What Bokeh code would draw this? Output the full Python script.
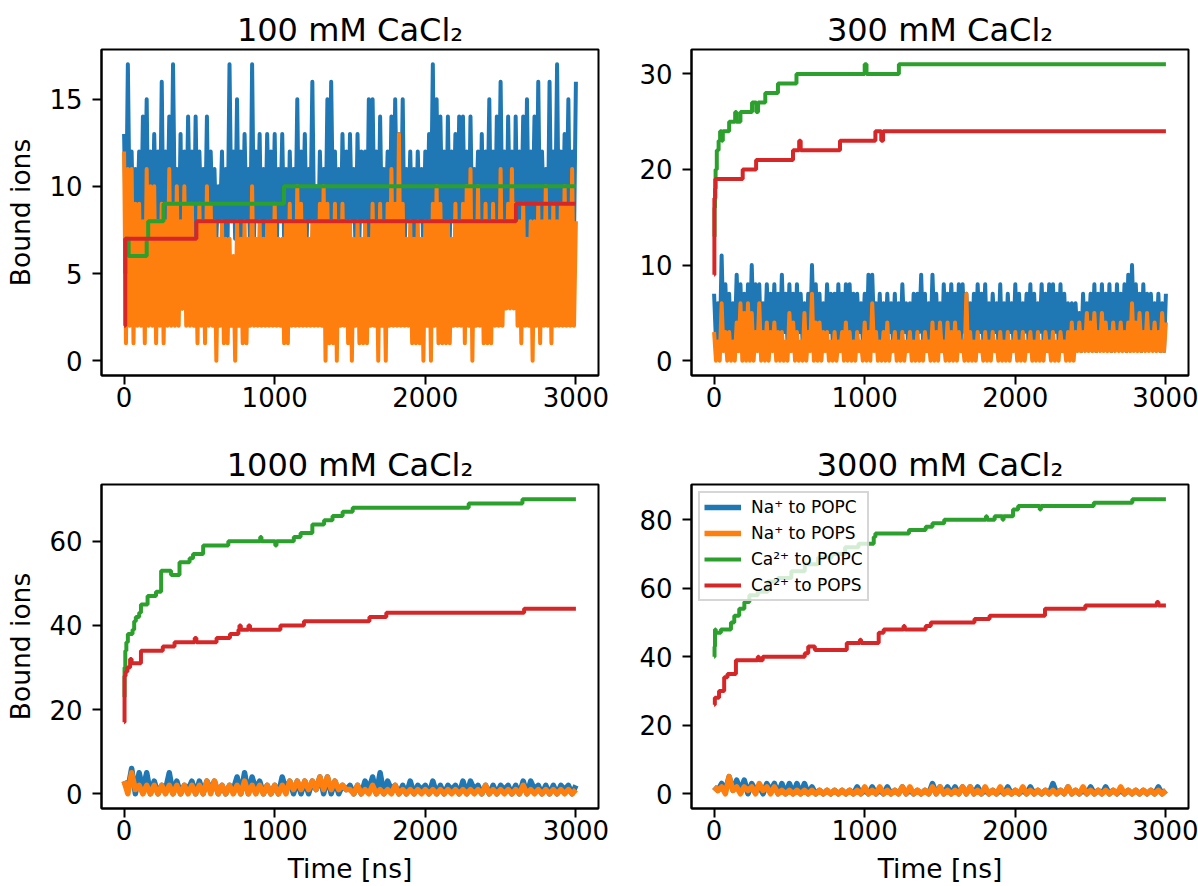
import numpy as np
from bokeh.plotting import figure
from bokeh.models import Range1d, FixedTicker, Legend, LegendItem
from bokeh.layouts import gridplot
from bokeh.embed import file_html
from bokeh.resources import INLINE

# sampling interval of the Na+ traces [ns]
DT_FINE = 12.5   # 100 mM and 300 mM (t = 0, 12.5, ... 3000)
DT_COARSE = 25.0  # 1000 mM and 3000 mM (t = 0, 25, ... 3000)

# ---------------- 100 mM CaCl2 ----------------
na_popc_100 = [
    13, 7, 17, 8, 12, 6, 11, 8, 12, 7,
    14, 8, 15, 6, 12, 7, 13, 8, 12, 7,
    16, 6, 12, 8, 14, 7, 17, 8, 11, 6,
    13, 3, 12, 7, 14, 8, 12, 6, 14, 7,
    12, 8, 11, 7, 14, 6, 12, 8, 11, 7,
    10, 8, 12, 6, 11, 7, 17, 8, 12, 7,
    15, 6, 12, 7, 13, 8, 11, 6, 17, 7,
    12, 8, 13, 6, 11, 7, 13, 8, 12, 7,
    13, 6, 11, 8, 13, 7, 11, 6, 12, 8,
    11, 7, 15, 6, 12, 8, 13, 7, 11, 8,
    16, 7, 10, 6, 12, 8, 11, 7, 15, 6,
    16, 8, 12, 7, 11, 6, 13, 8, 12, 7,
    13, 8, 11, 6, 13, 7, 12, 8, 12, 6,
    15, 7, 15, 8, 12, 6, 14, 7, 11, 8,
    12, 7, 14, 6, 15, 8, 13, 7, 15, 6,
    11, 8, 12, 7, 11, 7, 12, 8, 11, 6,
    12, 7, 13, 8, 17, 6, 15, 7, 14, 8,
    12, 6, 14, 7, 12, 8, 13, 6, 14, 7,
    14, 8, 12, 6, 14, 7, 11, 8, 12, 6,
    13, 7, 12, 8, 15, 6, 12, 7, 14, 8,
    16, 7, 12, 6, 14, 8, 12, 4, 14, 7,
    12, 8, 14, 6, 15, 7, 12, 8, 14, 6,
    16, 7, 12, 8, 11, 6, 16, 7, 12, 8,
    17, 6, 12, 7, 13, 8, 15, 6, 12, 7,
    16]
na_pops_100 = [
    12, 1, 11, 2, 11, 1, 9, 2, 9, 2,
    8, 1, 11, 2, 10, 2, 10, 1, 8, 2,
    9, 1, 8, 2, 11, 2, 9, 2, 10, 2,
    8, 3, 10, 2, 9, 2, 9, 2, 7, 1,
    9, 2, 8, 1, 10, 2, 9, 2, 8, 0,
    7, 2, 8, 1, 7, 1, 7, 2, 6, 0,
    8, 2, 7, 1, 8, 1, 7, 2, 10, 2,
    7, 2, 8, 2, 7, 2, 8, 2, 8, 2,
    9, 2, 7, 2, 7, 1, 8, 1, 9, 2,
    8, 2, 10, 2, 9, 2, 8, 2, 7, 2,
    8, 2, 8, 2, 9, 2, 10, 0, 9, 1,
    8, 1, 9, 0, 8, 2, 9, 2, 8, 1,
    8, 0, 7, 2, 8, 1, 7, 1, 8, 1,
    7, 2, 9, 2, 8, 0, 9, 2, 8, 0,
    9, 2, 11, 2, 9, 2, 13, 2, 9, 2,
    7, 2, 8, 1, 7, 1, 8, 1, 7, 0,
    8, 2, 8, 0, 9, 2, 10, 1, 9, 1,
    8, 1, 8, 1, 7, 2, 9, 2, 8, 2,
    9, 1, 10, 2, 11, 0, 8, 2, 10, 2,
    8, 1, 9, 1, 8, 1, 9, 2, 8, 2,
    11, 2, 8, 3, 9, 3, 11, 3, 9, 2,
    8, 1, 9, 2, 7, 2, 8, 0, 8, 2,
    9, 1, 8, 2, 10, 2, 8, 1, 9, 2,
    8, 2, 9, 2, 10, 2, 9, 2, 11, 2,
    8]
ca_popc_100_t = [0, 8, 30, 150, 160, 262, 1062, 3000]
ca_popc_100 = [5, 7, 6, 7, 8, 9, 10, 10]
ca_pops_100_t = [0, 8, 480, 2602, 3000]
ca_pops_100 = [2, 7, 8, 9, 9]

# ---------------- 300 mM CaCl2 ----------------
na_popc_300 = [
    7, 2, 6, 1, 11, 3, 8, 2, 7, 1,
    6, 2, 9, 3, 8, 2, 7, 1, 8, 2,
    10, 3, 8, 2, 8, 1, 6, 2, 8, 3,
    7, 2, 8, 1, 7, 2, 9, 3, 7, 2,
    8, 2, 7, 1, 8, 3, 7, 2, 6, 1,
    7, 2, 10, 3, 8, 2, 7, 1, 6, 2,
    8, 3, 7, 2, 7, 1, 8, 2, 7, 2,
    8, 3, 8, 1, 7, 2, 7, 3, 6, 2,
    7, 1, 9, 2, 9, 3, 6, 2, 7, 1,
    6, 2, 7, 3, 6, 2, 7, 1, 6, 2,
    8, 3, 6, 2, 6, 1, 7, 2, 7, 3,
    9, 2, 7, 1, 6, 2, 9, 3, 7, 2,
    6, 1, 8, 2, 7, 3, 8, 2, 7, 1,
    8, 2, 8, 3, 7, 2, 6, 1, 7, 2,
    8, 3, 7, 2, 8, 1, 6, 2, 7, 3,
    6, 2, 8, 1, 6, 2, 7, 3, 6, 2,
    8, 1, 7, 2, 6, 3, 7, 2, 8, 1,
    7, 2, 6, 3, 8, 2, 7, 1, 8, 2,
    8, 3, 7, 2, 8, 1, 7, 2, 6, 3,
    6, 2, 6, 2, 5, 1, 7, 2, 6, 3,
    7, 2, 8, 1, 7, 2, 8, 3, 7, 2,
    8, 1, 7, 2, 8, 3, 7, 2, 8, 1,
    9, 2, 10, 3, 8, 2, 7, 1, 8, 2,
    7, 2, 7, 3, 6, 2, 7, 1, 6, 1,
    7]
na_pops_300 = [
    3, 0, 2, 0, 6, 1, 3, 0, 3, 0,
    2, 0, 4, 1, 6, 0, 5, 0, 6, 0,
    5, 0, 3, 1, 6, 0, 3, 0, 4, 0,
    3, 1, 4, 0, 3, 0, 3, 0, 2, 0,
    5, 1, 4, 0, 3, 0, 2, 0, 5, 0,
    3, 1, 7, 0, 4, 0, 4, 0, 3, 1,
    3, 0, 2, 0, 3, 0, 2, 1, 3, 0,
    4, 0, 3, 0, 2, 0, 3, 1, 2, 0,
    4, 0, 3, 0, 6, 1, 3, 0, 2, 0,
    3, 0, 4, 0, 2, 1, 3, 0, 2, 0,
    3, 0, 2, 1, 3, 0, 2, 0, 3, 0,
    2, 0, 3, 1, 2, 0, 4, 0, 3, 0,
    4, 1, 2, 0, 4, 0, 3, 0, 4, 0,
    3, 1, 2, 0, 7, 0, 3, 0, 2, 0,
    3, 1, 2, 0, 3, 0, 2, 0, 3, 1,
    2, 0, 3, 0, 2, 0, 3, 0, 2, 1,
    3, 0, 2, 0, 3, 0, 2, 1, 3, 0,
    2, 0, 3, 0, 2, 0, 3, 1, 2, 0,
    3, 0, 2, 0, 3, 1, 2, 0, 3, 0,
    4, 0, 3, 1, 4, 1, 3, 1, 5, 1,
    4, 1, 5, 1, 3, 1, 5, 1, 4, 1,
    3, 1, 4, 1, 3, 1, 4, 1, 3, 1,
    4, 1, 6, 1, 4, 1, 5, 1, 3, 1,
    5, 1, 3, 1, 4, 1, 3, 1, 5, 1,
    4]
ca_popc_300_t = [0, 3, 6, 10, 18, 30, 40, 50, 58, 100, 140, 148, 175, 252,
                 280, 292, 340, 424, 547, 1000, 1012, 1227, 3000]
ca_popc_300 = [13, 16, 18, 20, 22, 23, 24, 23, 24, 25, 26, 25, 26, 27,
               26, 27, 28, 29, 30, 31, 30, 31, 31]
ca_pops_300_t = [0, 2, 8, 190, 279, 524, 565, 575, 836, 1071, 1110, 1122, 3000]
ca_pops_300 = [9, 17, 19, 20, 21, 22, 23, 22, 23, 24, 23, 24, 24]

# ---------------- 1000 mM CaCl2 ----------------
na_popc_1000 = [
    3, 1, 6, 0, 5, 1, 5, 0, 3, 0, 2, 1, 5, 0, 3, 0, 2, 1, 3, 0,
    3, 0, 3, 1, 3, 0, 2, 0, 2, 1, 4, 0, 5, 0, 4, 1, 3, 0, 2, 0,
    2, 0, 4, 1, 3, 0, 3, 0, 3, 0, 3, 1, 4, 0, 4, 0, 3, 0, 2, 1,
    2, 0, 2, 0, 3, 1, 4, 0, 5, 0, 3, 1, 2, 0, 2, 0, 3, 0, 2, 1,
    2, 0, 3, 0, 2, 0, 2, 1, 2, 0, 3, 0, 3, 1, 2, 0, 2, 0, 2, 0,
    2, 1, 2, 0, 2, 0, 3, 0, 3, 1, 2, 0, 2, 0, 2, 0, 2, 1, 2, 0,
    2]
na_pops_1000 = [
    3, 0, 5, 1, 2, 0, 2, 0, 2, 0, 2, 0, 2, 0, 2, 0, 2, 0, 2, 0,
    2, 0, 3, 0, 3, 0, 2, 0, 2, 0, 2, 0, 3, 0, 2, 0, 2, 0, 2, 0,
    2, 0, 2, 0, 3, 1, 3, 1, 3, 1, 3, 1, 4, 1, 4, 1, 3, 1, 2, 1,
    1, 0, 2, 0, 1, 0, 2, 0, 1, 0, 1, 0, 2, 0, 1, 0, 1, 0, 1, 0,
    1, 0, 1, 0, 1, 0, 1, 0, 1, 0, 1, 0, 1, 0, 1, 0, 2, 0, 1, 0,
    1, 0, 1, 0, 1, 0, 2, 0, 1, 0, 1, 0, 1, 0, 1, 0, 1, 0, 1, 0,
    1]
ca_popc_1000_t = [0, 3, 8, 15, 25, 56, 67, 78, 100, 112, 156, 212, 246, 312,
                  368, 435, 458, 525, 692, 904, 912, 1004, 1012, 1127, 1172,
                  1250, 1328, 1384, 1451, 1518, 2288, 2645, 3000]
ca_popc_1000 = [23, 30, 34, 36, 38, 39, 41, 42, 43, 45, 47, 48, 53, 52,
                55, 56, 57, 59, 60, 61, 60, 59, 60, 61, 62,
                64, 65, 66, 67, 68, 69, 70, 70]
ca_pops_1000_t = [0, 3, 10, 22, 40, 50, 112, 257, 335, 469, 480, 614, 703, 759,
                  766, 775, 826, 836, 1038, 1194, 1629, 1741, 2656, 3000]
ca_pops_1000 = [17, 28, 29, 30, 32, 31, 34, 35, 36, 37, 36, 37, 38, 39,
                40, 39, 40, 39, 40, 41, 42, 43, 44, 44]

# ---------------- 3000 mM CaCl2 ----------------
na_popc_3000 = [
    2, 1, 3, 1, 5, 1, 4, 1, 4, 0, 3, 1, 2, 0, 3, 1, 3, 0, 3, 0,
    3, 0, 3, 0, 3, 0, 2, 0, 1, 0, 1, 0, 1, 0, 1, 0, 1, 0, 2, 0,
    1, 0, 2, 0, 1, 0, 2, 0, 1, 0, 2, 0, 1, 0, 1, 0, 1, 0, 3, 0,
    2, 0, 2, 0, 2, 0, 2, 0, 2, 0, 2, 0, 1, 0, 1, 0, 1, 0, 2, 0,
    1, 0, 1, 0, 2, 0, 1, 0, 1, 0, 3, 0, 1, 0, 2, 0, 1, 0, 1, 0,
    2, 0, 1, 0, 2, 0, 1, 0, 1, 0, 1, 0, 1, 0, 1, 0, 1, 0, 2, 0,
    1]
na_pops_3000 = [
    2, 1, 2, 0, 5, 1, 2, 0, 2, 1, 2, 0, 3, 1, 2, 0, 2, 0, 1, 0,
    1, 0, 1, 0, 1, 0, 1, 0, 1, 0, 1, 0, 1, 0, 1, 0, 1, 0, 1, 0,
    2, 0, 1, 0, 2, 0, 1, 0, 1, 0, 2, 0, 2, 0, 1, 0, 1, 0, 2, 0,
    2, 0, 1, 0, 1, 0, 2, 0, 2, 0, 1, 0, 2, 0, 1, 0, 2, 0, 1, 0,
    1, 0, 2, 0, 1, 0, 1, 0, 1, 0, 1, 0, 1, 0, 2, 0, 1, 0, 2, 0,
    1, 0, 1, 0, 1, 0, 1, 0, 2, 0, 1, 0, 1, 0, 1, 0, 1, 0, 1, 0,
    1]
ca_popc_3000_t = [0, 3, 6, 11, 45, 112, 134, 167, 201, 234, 290, 357, 424, 513,
                  602, 691, 781, 870, 959, 1060, 1071, 1294, 1405, 1450, 1528,
                  1805, 1812, 1863, 1915, 1922, 1985, 2019, 2162, 2170, 2521,
                  2777, 3000]
ca_popc_3000 = [40, 43, 48, 47, 48, 50, 52, 54, 56, 58, 59, 62, 63, 65,
                67, 69, 70, 72, 73, 75, 76, 77, 78, 79, 80,
                81, 80, 81, 80, 81, 83, 84, 83, 84, 85,
                86, 86]
ca_pops_3000_t = [0, 5, 33, 67, 89, 145, 290, 298, 323, 602, 625, 669, 881, 968,
                  976, 1093, 1126, 1258, 1266, 1405, 1439, 1729, 1829, 2197,
                  2465, 2940, 2950, 3000]
ca_pops_3000 = [26, 28, 30, 34, 35, 39, 40, 39, 40, 41, 43, 42, 44, 45,
                44, 47, 48, 49, 48, 49, 50, 51, 52, 54,
                55, 56, 55, 55]

titles = ["100 mM CaCl\u2082", "300 mM CaCl\u2082", "1000 mM CaCl\u2082", "3000 mM CaCl\u2082"]
y_ticks = [[0, 5, 10, 15], [0, 10, 20, 30], [0, 20, 40, 60], [0, 20, 40, 60, 80]]
x_ticks = [0, 1000, 2000, 3000]
series_labels = ["Na\u207a to POPC", "Na\u207a to POPS", "Ca\u00b2\u207a to POPC", "Ca\u00b2\u207a to POPS"]

panels = [
    (DT_FINE, na_popc_100, na_pops_100, ca_popc_100_t, ca_popc_100, ca_pops_100_t, ca_pops_100),
    (DT_FINE, na_popc_300, na_pops_300, ca_popc_300_t, ca_popc_300, ca_pops_300_t, ca_pops_300),
    (DT_COARSE, na_popc_1000, na_pops_1000, ca_popc_1000_t, ca_popc_1000, ca_pops_1000_t, ca_pops_1000),
    (DT_COARSE, na_popc_3000, na_pops_3000, ca_popc_3000_t, ca_popc_3000, ca_pops_3000_t, ca_pops_3000),
]

COLORS = ["#1f77b4", "#ff7f0e", "#2ca02c", "#d62728"]
FONT = "DejaVu Sans"


def make_panel(i):
    row, col = divmod(i, 2)
    dt, na1, na2, c1t, c1, c2t, c2 = panels[i]
    allv = list(na1) + list(na2) + list(c1) + list(c2)
    lo, hi = min(allv), max(allv)
    pad = 0.05 * (hi - lo)
    p = figure(frame_width=497, frame_height=326 if row == 0 else 324,
               x_range=Range1d(-150, 3150), y_range=Range1d(lo - pad, hi + pad),
               output_backend="svg", toolbar_location=None,
               min_border_left=101 if col == 0 else 73,
               min_border_right=20 if col == 0 else 10,
               min_border_top=49 if row == 0 else 45,
               min_border_bottom=64 if row == 0 else 78)
    p.title.text = titles[i]
    p.title.align = "center"
    p.title.text_font = FONT
    p.title.text_font_size = "32px"
    p.title.text_font_style = "normal"
    p.title.text_color = "black"
    p.title.standoff = 1

    lw = 4 if dt == DT_FINE else 5.5
    t1 = np.arange(len(na1)) * dt
    t2 = np.arange(len(na2)) * dt
    rs = []
    rs.append(p.line(t1, na1, line_color=COLORS[0], line_width=lw, line_join="round"))
    rs.append(p.line(t2, na2, line_color=COLORS[1], line_width=lw, line_join="round"))
    rs.append(p.step(c1t, c1, mode="after", line_color=COLORS[2], line_width=4))
    rs.append(p.step(c2t, c2, mode="after", line_color=COLORS[3], line_width=4))

    p.xgrid.visible = False
    p.ygrid.visible = False
    p.outline_line_color = "black"
    p.outline_line_width = 2
    p.outline_line_alpha = 1
    p.xaxis.ticker = FixedTicker(ticks=x_ticks)
    p.yaxis.ticker = FixedTicker(ticks=y_ticks[i])
    for ax in (p.xaxis[0], p.yaxis[0]):
        ax.axis_line_width = 2
        ax.axis_line_color = "black"
        ax.major_tick_line_width = 2
        ax.major_tick_line_color = "black"
        ax.major_tick_out = 9
        ax.major_tick_in = 0
        ax.minor_tick_out = 0
        ax.minor_tick_in = 0
        ax.major_label_text_font = FONT
        ax.major_label_text_font_size = "26px"
        ax.major_label_text_color = "black"
        ax.axis_label_text_font = FONT
        ax.axis_label_text_font_size = "26.5px"
        ax.axis_label_text_font_style = "normal"
        ax.axis_label_text_color = "black"
        ax.axis_label_standoff = 10
    p.xaxis.major_label_standoff = 2
    p.yaxis.major_label_standoff = 10
    if col == 0:
        p.yaxis.axis_label = "Bound ions"
    if row == 1:
        p.xaxis.axis_label = "Time [ns]"

    if i == 3:
        items = [LegendItem(label=series_labels[k], renderers=[rs[k]]) for k in range(4)]
        leg = Legend(items=items, location="top_left", margin=7, padding=4, spacing=6,
                     glyph_width=37, glyph_height=20, label_height=20, label_standoff=10,
                     label_text_font=FONT, label_text_font_size="17px", label_text_color="black",
                     background_fill_color="white", background_fill_alpha=0.8,
                     border_line_color="#cccccc", border_line_width=2, border_line_alpha=0.8)
        p.add_layout(leg)
    return p


figs = [make_panel(i) for i in range(4)]
grid = gridplot([[figs[0], figs[1]], [figs[2], figs[3]]], toolbar_location=None)

with open("out.html", "w") as f:
    f.write(file_html(grid, INLINE))
